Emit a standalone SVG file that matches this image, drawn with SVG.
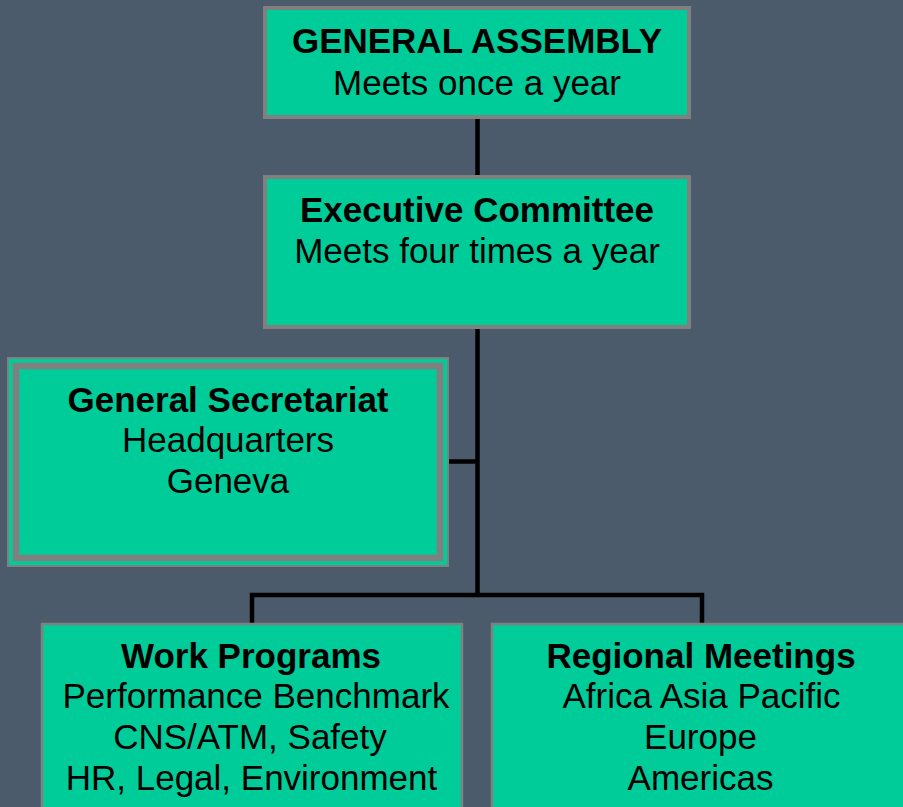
<svg xmlns="http://www.w3.org/2000/svg" width="903" height="807" viewBox="0 0 903 807">
<style>
.box{fill:#00CC99;stroke:#808080;}
.t{font-family:"Liberation Sans",Arial,sans-serif;font-size:35px;fill:#000;text-anchor:middle;}
.b{font-weight:bold;}
.conn{fill:none;stroke:#000;stroke-width:4.5;stroke-linejoin:miter;stroke-linecap:butt;}
</style>
<rect x="0" y="0" width="903" height="807" fill="#4B5B6B"/>
<g id="connectors">
<line class="conn" x1="477.5" y1="119" x2="477.5" y2="175"/>
<line class="conn" x1="477.5" y1="329" x2="477.5" y2="597"/>
<line class="conn" x1="449" y1="461.5" x2="477.5" y2="461.5"/>
<path class="conn" d="M252 623 V595 H702 V623"/>
</g>
<g id="general-assembly">
<rect class="box" x="265" y="8" width="424" height="109" stroke-width="4"/>
<text class="t b" x="477" y="53">GENERAL ASSEMBLY</text>
<text class="t" x="477" y="95">Meets once a year</text>
</g>
<g id="executive-committee">
<rect class="box" x="265" y="177" width="424" height="150" stroke-width="4"/>
<text class="t b" x="477" y="222">Executive Committee</text>
<text class="t" x="477" y="263">Meets four times a year</text>
</g>
<g id="general-secretariat">
<rect class="box" x="8" y="358" width="440" height="208" stroke-width="2"/>
<rect class="box" x="16" y="366" width="424" height="192" stroke-width="6.5"/>
<text class="t b" x="228" y="412">General Secretariat</text>
<text class="t" x="228" y="452">Headquarters</text>
<text class="t" x="228" y="493">Geneva</text>
</g>
<g id="work-programs">
<rect class="box" x="42" y="624" width="420" height="210" stroke-width="2.5"/>
<text class="t b" x="251" y="668">Work Programs</text>
<text class="t" x="256" y="708">Performance Benchmark</text>
<text class="t" x="250" y="749">CNS/ATM, Safety</text>
<text class="t" x="251.5" y="790">HR, Legal, Environment</text>
</g>
<g id="regional-meetings">
<rect class="box" x="492" y="624" width="420" height="210" stroke-width="2.5"/>
<text class="t b" x="701" y="668">Regional Meetings</text>
<text class="t" x="701.5" y="708">Africa Asia Pacific</text>
<text class="t" x="700.5" y="749">Europe</text>
<text class="t" x="700.5" y="790">Americas</text>
</g>
</svg>
